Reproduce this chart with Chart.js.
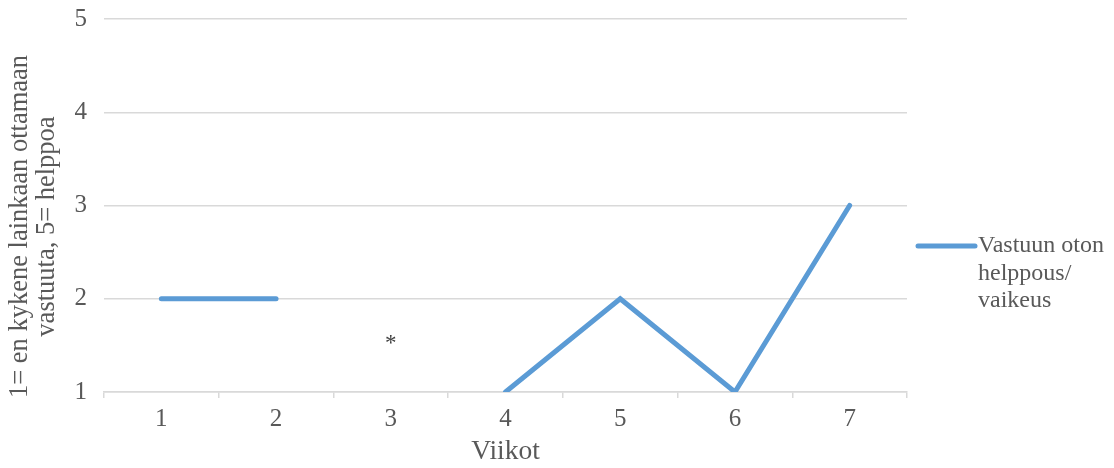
<!DOCTYPE html>
<html>
<head>
<meta charset="utf-8">
<script src="https://cdn.jsdelivr.net/npm/chart.js@4/dist/chart.umd.min.js"></script>
<style>
  html, body { margin: 0; padding: 0; background: #ffffff; }
  #wrap { width: 1114px; height: 468px; }
</style>
</head>
<body>
<div id="wrap"><canvas id="chart" width="1114" height="468"></canvas></div>
<script>
// Weekly self-rating of how easy it was to take responsibility
const weeks = ['1', '2', '3', '4', '5', '6', '7'];
const responsibility = [2, 2, null, 1, 2, 1, 3];
const yTickValues = [1, 2, 3, 4, 5];
// Marker shown for the week without a rating
const noteWeeks = ['3'];
const noteValues = [1.5];
const noteTexts = ['*'];
const seriesLabelLines = ['Vastuun oton', 'helppous/', 'vaikeus'];
const yTitleLines = ['1= en kykene lainkaan ottamaan', 'vastuuta, 5= helppoa'];
const xTitle = 'Viikot';

const FONT = '"Liberation Serif", "Times New Roman", serif';
const TEXT = '#595959';
const GRID = '#d9d9d9';
const LINE = '#5b9bd5';

// Draws the rotated y-axis title, the note marker and the side legend
const extras = {
  id: 'extras',
  afterDraw(chart) {
    const { ctx, chartArea, scales } = chart;
    ctx.save();
    // y-axis title
    ctx.fillStyle = TEXT;
    ctx.font = '26.5px ' + FONT;
    ctx.textAlign = 'center';
    ctx.textBaseline = 'middle';
    const cy = (chartArea.top + chartArea.bottom) / 2 + 21;
    yTitleLines.forEach((t, i) => {
      ctx.save();
      ctx.translate(20 + i * 27, cy);
      ctx.rotate(-Math.PI / 2);
      ctx.fillText(t, 0, 0);
      ctx.restore();
    });
    // note markers
    ctx.font = '23px ' + FONT;
    ctx.fillStyle = '#404040';
    noteWeeks.forEach((w, i) => {
      const x = scales.x.getPixelForValue(weeks.indexOf(w));
      const y = scales.y.getPixelForValue(noteValues[i]);
      ctx.fillText(noteTexts[i], x, y - 1);
    });
    // legend
    const lx = chartArea.right + 11;
    const ly = chartArea.top + 227;
    ctx.strokeStyle = LINE;
    ctx.lineWidth = 5;
    ctx.lineCap = 'round';
    ctx.beginPath();
    ctx.moveTo(lx, ly);
    ctx.lineTo(lx + 57, ly);
    ctx.stroke();
    ctx.fillStyle = TEXT;
    ctx.font = '24px ' + FONT;
    ctx.textAlign = 'left';
    seriesLabelLines.forEach((t, i) => {
      ctx.fillText(t, lx + 60, ly + i * 27.5);
    });
    ctx.restore();
  }
};

new Chart(document.getElementById('chart'), {
  type: 'line',
  data: {
    labels: weeks,
    datasets: [{
      label: seriesLabelLines.join(' '),
      data: responsibility,
      borderColor: LINE,
      backgroundColor: LINE,
      borderWidth: 5,
      borderCapStyle: 'round',
      borderJoinStyle: 'miter',
      pointRadius: 0,
      pointHoverRadius: 0,
      tension: 0,
      spanGaps: false
    }]
  },
  options: {
    responsive: false,
    animation: false,
    devicePixelRatio: 1,
    layout: { padding: { left: 0, right: 207, top: 19, bottom: 0 } },
    plugins: {
      legend: { display: false },
      tooltip: { enabled: false }
    },
    scales: {
      x: {
        offset: true,
        afterFit(scale) { scale.height = 76; scale.paddingLeft = 0; scale.paddingRight = 0; },
        grid: {
          offset: true,
          drawOnChartArea: false,
          drawTicks: true,
          tickLength: 6,
          color: GRID,
          lineWidth: 1.5
        },
        border: { display: true, color: GRID, width: 1.5 },
        ticks: {
          color: TEXT,
          font: { family: FONT, size: 25 },
          padding: 6,
          maxRotation: 0
        },
        title: {
          display: true,
          text: xTitle,
          color: TEXT,
          font: { family: FONT, size: 27.5 },
          padding: 0
        }
      },
      y: {
        min: 1,
        max: 5,
        afterFit(scale) { scale.width = 104; scale.paddingTop = 0; scale.paddingBottom = 0; },
        afterBuildTicks(scale) { scale.ticks = yTickValues.map(v => ({ value: v })); },
        grid: { color: GRID, lineWidth: 1.5, drawTicks: false },
        border: { display: false },
        ticks: {
          color: TEXT,
          font: { family: FONT, size: 25 },
          padding: 17
        }
      }
    }
  },
  plugins: [extras]
});
</script>
</body>
</html>
